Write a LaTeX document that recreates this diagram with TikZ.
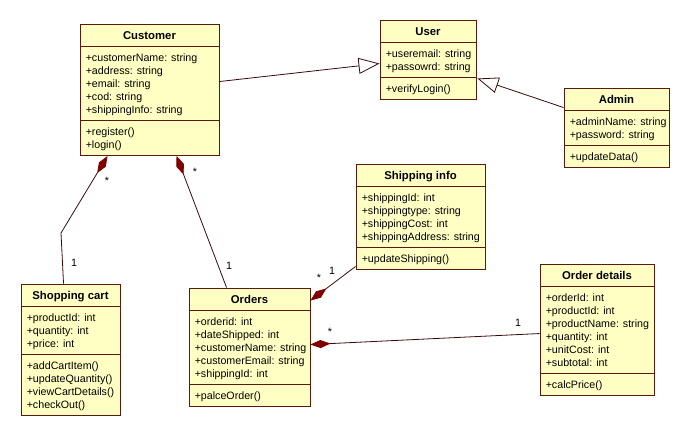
\documentclass[tikz,border=0pt]{standalone}
\usepackage{fontspec}
\setmainfont{Liberation Sans}
\usetikzlibrary{arrows.meta,calc}
\definecolor{boxfill}{HTML}{FFFFC4}
\definecolor{boxline}{HTML}{5C1A0C}
\definecolor{connline}{HTML}{3A0A0A}
\definecolor{diamondfill}{HTML}{800000}
\tikzset{
  classbox/.style={draw=boxline, fill=boxfill, line width=0.7pt, inner sep=0pt, rectangle},
  divider/.style={draw=boxline, line width=0.7pt},
  titletext/.style={font=\fontsize{8.5pt}{10pt}\selectfont\bfseries, anchor=base, inner sep=0pt},
  membertext/.style={font=\fontsize{8pt}{9.75pt}\selectfont, anchor=base west, inner sep=0pt},
  multtext/.style={font=\fontsize{8pt}{9.75pt}\selectfont, inner sep=0pt},
  assoc/.style={draw=connline, line width=0.6pt},
  compo/.style={assoc, {Diamond[length=15pt,width=6pt,fill=diamondfill,color=diamondfill]}-},
  gen/.style={assoc, -{Triangle[length=15.75pt, width=12pt, fill=white, color=connline]}},
}
\newcommand\umlclass[7]{%
  \foreach \itm [count=\i] in {#6} {\xdef\nA{\i}}%
  \foreach \itm [count=\i] in {#7} {\xdef\nM{\i}}%
  \pgfmathsetmacro\dA{#3+22}%
  \pgfmathsetmacro\dB{\dA+13*\nA+9}%
  \pgfmathsetmacro\yB{\dB+13*\nM+9.5}%
  \node[classbox, minimum width={(#4-#2)*0.75pt}, minimum height={(\yB-#3)*0.75pt}] (#1) at ({(#2+#4)/2},{(#3+\yB)/2}) {};%
  \draw[divider] (#2,\dA) -- (#4,\dA) (#2,\dB) -- (#4,\dB);%
  \node[titletext] (#1-title) at ({(#2+#4)/2},#3+15) {#5};%
  \foreach \itm [count=\i] in {#6} {\node[membertext] (#1-a\i) at (#2+5.5,\dA+15.5+13*\i-13) {\itm};}%
  \foreach \itm [count=\i] in {#7} {\node[membertext] (#1-m\i) at (#2+5.5,\dB+15+13*\i-13) {\itm};}%
}
\begin{document}
\begin{tikzpicture}[x=0.75pt,y=-0.75pt]
\fill[white] (0,0) rectangle (690,437);
\useasboundingbox (0,0) rectangle (690,437);

\umlclass{cust}{80}{24}{219}{Customer}{+customerName: string,+address: string,+email: string,+cod: string,+shippingInfo: string}{+register(),+login()}
\umlclass{user}{380}{20}{476}{User}{+useremail: string,+passowrd: string}{+verifyLogin()}
\umlclass{admin}{564}{88}{669}{Admin}{+adminName: string,+password: string}{+updateData()}
\umlclass{ship}{356}{164}{485}{Shipping info}{+shippingId: int,+shippingtype: string,+shippingCost: int,+shippingAddress: string}{+updateShipping()}
\umlclass{od}{540}{264}{654}{Order details}{+orderId: int,+productId: int,+productName: string,+quantity: int,+unitCost: int,+subtotal: int}{+calcPrice()}
\umlclass{cart}{21}{284}{120}{Shopping cart}{+productId: int,+quantity: int,+price: int}{+addCartItem(),+updateQuantity(),+viewCartDetails(),+checkOut()}
\umlclass{orders}{189}{288}{310}{Orders}{+orderid: int,+dateShipped: int,+customerName: string,+customerEmail: string,+shippingId: int}{+palceOrder()}

% generalizations
\draw[gen] ($(cust.north east)+(0,58)$) -- ($(user.north west)+(0,44)$);
\draw[gen] ($(admin.north west)+(0,20)$) -- ($(user.south east)+(1,-21.5)$);

% compositions
\coordinate (cartbend) at (61,233);
\draw[compo] ($(cust.south west)+(28,0)$) -- (cartbend) -- ($(cart.north west)+(43,0)$);
\draw[compo] ($(cust.south west)+(97,0)$) -- ($(orders.north west)+(38,0)$);
\draw[compo] ($(orders.north east)+(0,13)$) -- ($(ship.south west)+(0,-3.5)$);
\draw[compo] ($(orders.north east)+(0,57)$) -- ($(od.north west)+(0,70)$);

% multiplicities
\node[multtext] (mc1) at (107,181) {*};
\node[multtext] (mc2) at (74,263) {1};
\node[multtext] (mo1) at (195,172) {*};
\node[multtext] (mo2) at (229,266) {1};
\node[multtext] (ms1) at (319,278) {*};
\node[multtext] (ms2) at (332,271) {1};
\node[multtext] (md1) at (330,332) {*};
\node[multtext] (md2) at (518,323) {1};
\end{tikzpicture}
\end{document}
